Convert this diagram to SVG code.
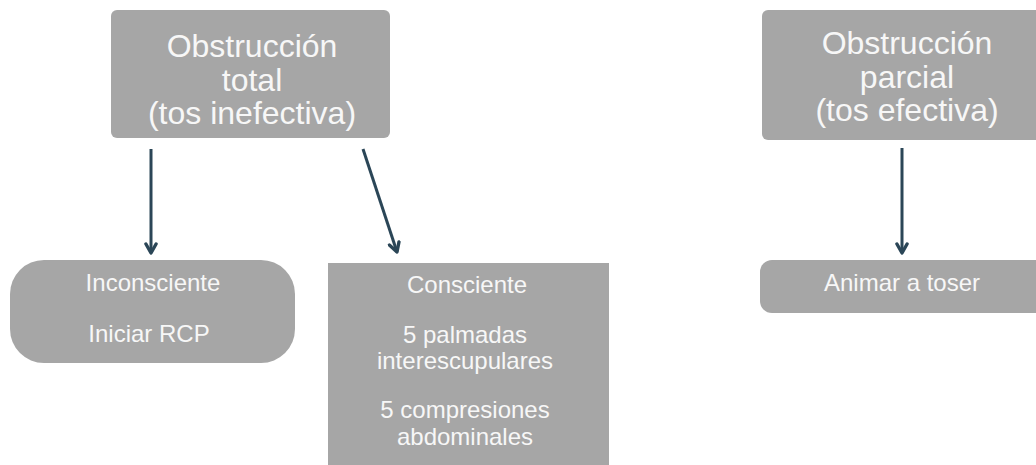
<svg xmlns="http://www.w3.org/2000/svg" width="1036" height="465" viewBox="0 0 1036 465">
<style>
.box{fill:#a6a6a6}
.t{font-family:"Liberation Sans",Arial,sans-serif;fill:#f7f7f7;text-anchor:middle}
.big{font-size:32px}
.sm{font-size:24px}
.con{stroke:#2b4657;stroke-width:3;fill:none}
</style>
<defs>
<marker id="ah" viewBox="0 0 12 12" refX="10" refY="6" markerWidth="4.5" markerHeight="4.5" orient="auto" markerUnits="strokeWidth">
<path d="M2,1.5 L10,6 L2,10.5" fill="none" stroke="#2b4657" stroke-width="3" stroke-linecap="round" stroke-linejoin="round"/>
</marker>
</defs>
<rect width="1036" height="465" fill="#ffffff"/>
<g id="total">
<rect class="box" x="111" y="10" width="279" height="128" rx="6"/>
<text class="t big" x="252" y="57">Obstrucción</text>
<text class="t big" x="252" y="91">total</text>
<text class="t big" x="252" y="124">(tos inefectiva)</text>
</g>
<g id="parcial">
<rect class="box" x="762" y="10" width="290" height="130" rx="6"/>
<text class="t big" x="907" y="54">Obstrucción</text>
<text class="t big" x="907" y="88">parcial</text>
<text class="t big" x="907" y="121">(tos efectiva)</text>
</g>
<g id="inconsciente">
<rect class="box" x="10" y="260" width="285" height="103" rx="34"/>
<text class="t sm" x="153" y="291">Inconsciente</text>
<text class="t sm" x="149" y="342">Iniciar RCP</text>
</g>
<g id="consciente">
<rect class="box" x="328" y="263" width="281" height="210"/>
<text class="t sm" x="467" y="293">Consciente</text>
<text class="t sm" x="465" y="343">5 palmadas</text>
<text class="t sm" x="465" y="369">interescupulares</text>
<text class="t sm" x="465" y="418">5 compresiones</text>
<text class="t sm" x="465" y="445">abdominales</text>
</g>
<g id="animar">
<rect class="box" x="760" y="260" width="300" height="53" rx="12"/>
<text class="t sm" x="902" y="291">Animar a toser</text>
</g>
<g id="connectors">
<line class="con" x1="151" y1="149" x2="151" y2="253" marker-end="url(#ah)"/>
<line class="con" x1="363" y1="149" x2="397" y2="252" marker-end="url(#ah)"/>
<line class="con" x1="902" y1="148" x2="902" y2="253" marker-end="url(#ah)"/>
</g>
</svg>
